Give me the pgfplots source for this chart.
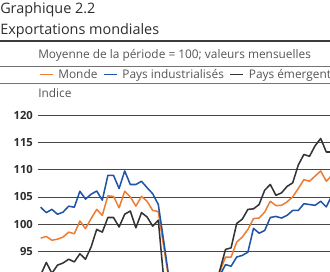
\documentclass[border=0pt]{standalone}
\usepackage{fontspec}
\setmainfont{Open Sans}
\usepackage{pgfplots}
\usepackage{pgfplotstable}
\pgfplotsset{compat=1.18}

\definecolor{cmonde}{RGB}{239,125,49}
\definecolor{cindus}{RGB}{31,84,166}
\definecolor{cemerg}{RGB}{51,51,51}
\definecolor{ctitle}{RGB}{45,45,45}
\definecolor{cnote}{RGB}{85,85,85}
\definecolor{crule}{RGB}{60,60,60}

% Monthly world exports, period average = 100
\pgfplotstableread{
i  monde  indus  emerg
0  97.4   103.1  90.6
1  97.7   102.1  92.9
2  97.0   102.7  90.9
3  97.2   101.8  92.4
4  97.6   102.2  92.8
5  98.5   103.3  93.5
6  98.2   103.1  93.0
7  100.55 106.05 94.5
8  99.15  104.6  93.5
9  101.0  105.5  95.75
10 102.7  106.1  99.0
11 101.6  104.4  98.5
12 105.2  109.0  101.2
13 105.1  109.0  101.2
14 103.0  106.55 99.45
15 106.05 109.8  101.8
16 105.0  107.3  102.4
17 103.3  107.3  99.3
18 105.1  107.9  102.1
19 104.2  106.7  101.3
20 102.5  105.6  99.6
21 102.3  103.6  100.7
22 95.6   96.6   89.5
23 89.0   89.3   85.0
24 84.0   84.0   81.0
25 80.5   80.0   78.0
26 79.0   78.5   77.5
27 79.5   79.0   78.5
28 80.5   80.0   80.0
29 82.0   81.5   82.5
30 84.5   83.5   85.5
31 87.5   86.5   88.0
32 91.2   90.5   91.5
33 93.9   92.5   95.3
34 93.9   92.2   95.6
35 96.65  93.9   100.1
36 97.6   94.2   100.9
37 99.0   94.8   102.7
38 101.0  99.2   102.8
39 101.1  98.3   103.6
40 102.2  98.8   106.25
41 104.2  101.2  107.3
42 103.4  101.4  105.3
43 103.45 101.1  105.75
44 104.1  101.6  106.95
45 105.0  102.5  107.6
46 106.55 102.5  110.9
47 108.2  103.75 112.85
48 107.9  103.6  112.5
49 108.85 103.45 114.45
50 109.8  104.2  115.8
51 107.9  103.15 113.3
52 109.0  105.3  113.3
}\exports

\begin{document}
\begin{tikzpicture}
\useasboundingbox (0,0) rectangle (247.5pt,-204pt);
\clip (0,0) rectangle (247.5pt,-204pt);

\begin{scope}[x=0.75pt,y=-0.75pt]
  \node[anchor=base west, inner sep=0pt, text=ctitle,
        font=\fontsize{10.8}{12}\selectfont] at (0,13.5) {Graphique 2.2};
  \node[anchor=base west, inner sep=0pt, text=ctitle,
        font=\fontsize{10.8}{12}\selectfont] at (0,34.3) {Exportations mondiales};
  \draw[crule, line width=1.6pt] (0,41) -- (330,41);
  \node[anchor=base west, inner sep=0pt, text=cnote,
        font=\fontsize{8.9}{10}\selectfont] at (38,58) {Moyenne de la période = 100; valeurs mensuelles};
  \draw[black!55, line width=0.6pt] (0,66.5) -- (330,66.5);
  \draw[black!55, line width=0.6pt] (0,83.5) -- (330,83.5);
  \node[anchor=base west, inner sep=0pt, text=cnote,
        font=\fontsize{8.9}{10}\selectfont] at (38,97.5) {Indice};
\end{scope}

\begin{axis}[
  at={(28.425pt,-289.8pt)}, anchor=south west,
  scale only axis, width=252pt, height=203pt,
  xmin=-0.5, xmax=59.5, ymin=70, ymax=120,
  axis line style={draw=none},
  xtick=\empty,
  ytick={95,100,...,120},
  extra y ticks={70,75,...,90},
  extra y tick labels={},
  extra y tick style={grid=major},
  major tick length=0pt,
  ymajorgrids,
  grid style={black!72, line width=0.6pt},
  /pgf/number format/assume math mode=true,
  yticklabel style={font=\fontsize{8.4}{10}\selectfont\bfseries, text=ctitle,
                    anchor=east, inner sep=0pt, xshift=-3.6pt},
  every axis plot/.append style={line width=1.15pt, line join=round},
  legend columns=-1,
  legend image code/.code={\draw[#1] (0pt,0pt) -- (9.75pt,0pt);},
  legend style={at={(0.0033,1.1522)}, anchor=west, draw=none, fill=none,
                inner sep=0pt, outer sep=0pt,
                font=\fontsize{8.9}{10}\selectfont, text=cnote,
                nodes={inner sep=0pt},
                /tikz/every even column/.append style={column sep=4.2pt},
                /tikz/every odd column/.append style={column sep=3.6pt}},
]
\addplot[cmonde] table[x=i, y=monde] {\exports};
\addlegendentry{Monde}
\addplot[cindus] table[x=i, y=indus] {\exports};
\addlegendentry{Pays industrialisés}
\addplot[cemerg] table[x=i, y=emerg] {\exports};
\addlegendentry{Pays émergents}
\end{axis}
\end{tikzpicture}
\end{document}
